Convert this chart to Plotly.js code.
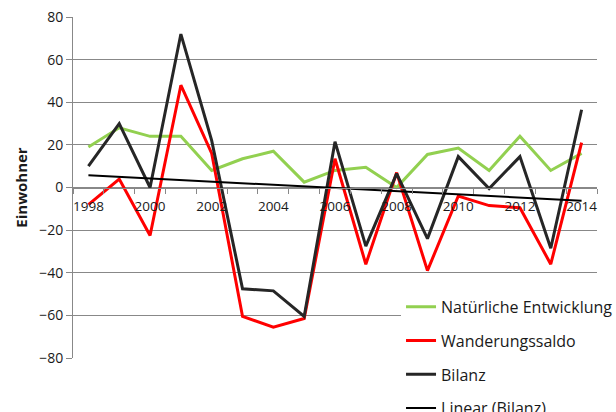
<!DOCTYPE html>
<html>
<head>
<meta charset="utf-8">
<script src="https://cdn.plot.ly/plotly-3.0.1.min.js"></script>
<style>html,body{margin:0;padding:0;background:#fff;}#chart{width:616px;height:412px;}</style>
</head>
<body>
<div id="chart"></div>
<script>
const years = [1998,1999,2000,2001,2002,2003,2004,2005,2006,2007,2008,2009,2010,2011,2012,2013,2014];
const natuerlich = [19,28,24,24,8,13.5,17,2.5,8,9.5,0,15.5,18.5,8,24,8,16];
const wanderung = [-8,4,-22.5,48,16,-60.5,-65.5,-61.5,13.5,-36,7,-39,-4,-8.5,-9.5,-36,21];
const bilanz = [10,30,0,72,22,-47.5,-48.5,-60.5,21.5,-27.5,6.5,-24,14.5,-0.5,14.5,-28.5,36.5];
const trendYears = [1998, 2014];
const trendValues = [5.7, -6.2];
const yTicks = [-80,-60,-40,-20,0,20,40,60,80];
const xTickYears = [1998,2000,2002,2004,2006,2008,2010,2012,2014];
const seriesNames = ['Natürliche Entwicklung','Wanderungssaldo','Bilanz','Linear (Bilanz)'];

const grid = '#888888';
const font = '"Open Sans", Lato, sans-serif';
const txt = '#1a1a1a';

const traces = [
  {x: years, y: natuerlich, name: seriesNames[0], legendgroup:'a', mode:'lines', line:{color:'#92D050', width:3}},
  {x: years, y: wanderung, name: seriesNames[1], legendgroup:'b', mode:'lines', line:{color:'#FF0000', width:3}},
  {x: years, y: bilanz, name: seriesNames[2], legendgroup:'c', mode:'lines', line:{color:'#262626', width:3}},
  {x: trendYears, y: trendValues, name: seriesNames[3], legendgroup:'d', mode:'lines', line:{color:'#000000', width:2}}
];

const layout = {
  width: 616, height: 412,
  margin: {l:73, r:19, t:17, b:54, autoexpand:false},
  paper_bgcolor:'#fff', plot_bgcolor:'#fff',
  font: {family: font, size: 14, color: txt},
  showlegend: true,
  legend: {x: 0.626, xanchor:'left', y: 0.2, yanchor:'top', bgcolor:'#fff',
           traceorder:'grouped', tracegroupgap: 10, font:{family: font, size: 16, color: txt}},
  xaxis: {
    range: [1997.5, 2014.5], anchor:'free', position: 0.5,
    tickmode:'array', tickvals: xTickYears, ticktext: xTickYears.map(String),
    ticks:'', showgrid:false, zeroline:false, ticklabelstandoff: 6,
    showline:true, linecolor: grid, linewidth:1,
    tickfont:{family: font, size:13.5, color: txt},
    minor: {tickmode:'linear', tick0:1997.5, dtick:1, ticks:'outside', ticklen:5, tickcolor:grid, showgrid:false}
  },
  yaxis: {
    range: [-80, 80], tickmode:'array', tickvals: yTicks,
    showgrid:true, gridcolor: grid, gridwidth:1, zeroline:false,
    showline:true, linecolor: grid, linewidth:1,
    ticks:'outside', ticklen:6, tickcolor: grid,
    tickfont:{family: font, size:14, color: txt},
    title:{text:'Einwohner', font:{family: font, size:15, color: txt, weight:'bold'}, standoff: 7}
  }
};

Plotly.newPlot('chart', traces, layout, {displayModeBar:false, staticPlot:true});
</script>
</body>
</html>
